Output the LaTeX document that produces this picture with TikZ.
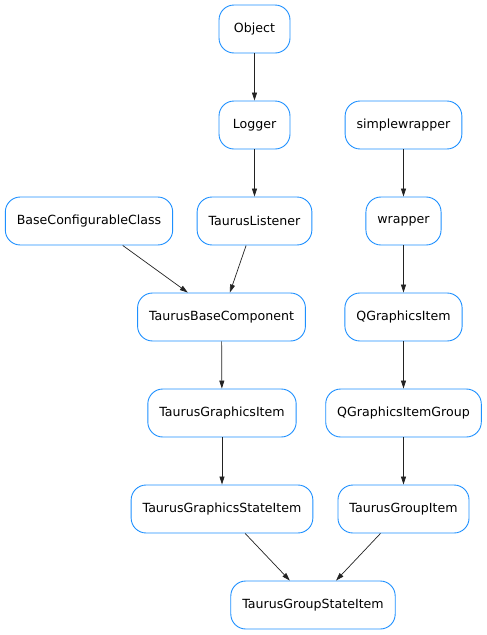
\documentclass[tikz,border=0pt]{standalone}
\usepackage{fontspec}
\setmainfont{DejaVu Sans}
\usetikzlibrary{calc}
\usetikzlibrary{arrows.meta}

\definecolor{boxblue}{HTML}{1E90FF}
\definecolor{edgegray}{HTML}{222222}

\begin{document}
\begin{tikzpicture} [x=1pt, y=-1pt,
  cls/.style={draw=boxblue, line width=.9pt, rounded corners=15pt, fill=white,
    minimum width=71pt, minimum height=48pt, inner xsep=11.5pt,
    font=\fontsize{12.6}{15}\selectfont},
  inh/.style={draw=edgegray, line width=.7pt, -{Triangle[length=8pt,width=5pt]}}]
\useasboundingbox (0,0) rectangle (487,635);

% left column
\node[cls] (obj) at (254.5,29) {Object};
\node[cls] (log) at (254.5,125) {Logger};
\node[cls] (bcc) at (89,221) {BaseConfigurableClass};
\node[cls] (tl) at (254.5,221) {TaurusListener};
\node[cls] (tbc) at (221.5,317) {TaurusBaseComponent};
\node[cls] (tgi) at (222,413) {TaurusGraphicsItem};
\node[cls] (tgsi) at (222,509) {TaurusGraphicsStateItem};

% right column
\node[cls] (sw) at (403.5,125) {simplewrapper};
\node[cls] (wr) at (403.5,221) {wrapper};
\node[cls] (qgi) at (403.5,317) {QGraphicsItem};
\node[cls] (qgig) at (403.5,413) {QGraphicsItemGroup};
\node[cls] (tgri) at (403.5,509) {TaurusGroupItem};

\node[cls] (tgrsi) at (313,605) {TaurusGroupStateItem};

\foreach \a/\b in {obj/log, log/tl, bcc/tbc, tl/tbc, tbc/tgi, tgi/tgsi,
  sw/wr, wr/qgi, qgi/qgig, qgig/tgri, tgsi/tgrsi, tgri/tgrsi}
  \draw[inh] (\a) -- (\b);

\end{tikzpicture}
\end{document}
